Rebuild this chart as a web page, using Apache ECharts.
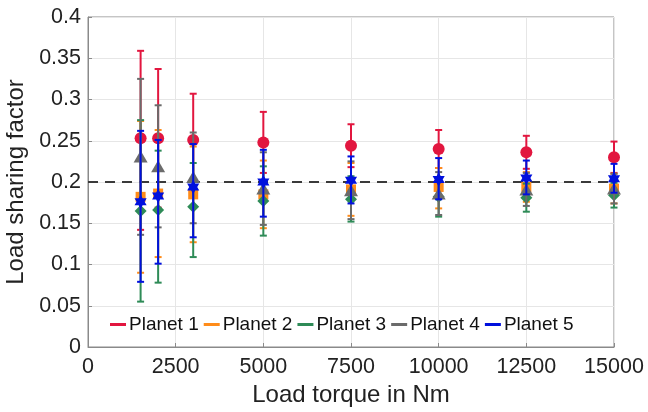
<!DOCTYPE html>
<html><head><meta charset="utf-8">
<script src="https://cdn.jsdelivr.net/npm/echarts@6/dist/echarts.min.js"></script>
<style>html,body{margin:0;padding:0;background:#fff}#c{width:648px;height:412px}</style>
</head><body><div id="c"></div>
<script>
const torque = [1500, 2000, 3000, 5000, 7500, 10000, 12500, 15000];
const names = ['Planet 1', 'Planet 2', 'Planet 3', 'Planet 4', 'Planet 5'];
const p1Mean = [0.253, 0.253, 0.251, 0.248, 0.244, 0.240, 0.236, 0.230];
const p1Up   = [0.359, 0.337, 0.307, 0.285, 0.270, 0.263, 0.256, 0.249];
const p1Low  = [0.142, 0.169, 0.195, 0.211, 0.218, 0.217, 0.216, 0.211];
const p2Mean = [0.182, 0.186, 0.185, 0.185, 0.191, 0.194, 0.194, 0.192];
const p2Up   = [0.274, 0.263, 0.243, 0.226, 0.223, 0.217, 0.212, 0.210];
const p2Low  = [0.090, 0.109, 0.127, 0.144, 0.159, 0.168, 0.176, 0.174];
const p3Mean = [0.165, 0.166, 0.170, 0.177, 0.179, 0.182, 0.181, 0.184];
const p3Up   = [0.275, 0.238, 0.223, 0.219, 0.207, 0.205, 0.198, 0.199];
const p3Low  = [0.055, 0.078, 0.109, 0.135, 0.152, 0.158, 0.164, 0.169];
const p4Mean = [0.231, 0.219, 0.206, 0.192, 0.190, 0.186, 0.191, 0.192];
const p4Up   = [0.325, 0.293, 0.260, 0.236, 0.225, 0.212, 0.211, 0.210];
const p4Low  = [0.136, 0.145, 0.150, 0.148, 0.155, 0.160, 0.171, 0.174];
const p5Mean = [0.176, 0.183, 0.194, 0.200, 0.202, 0.203, 0.205, 0.204];
const p5Up   = [0.262, 0.251, 0.246, 0.239, 0.231, 0.229, 0.226, 0.222];
const p5Low  = [0.079, 0.101, 0.133, 0.158, 0.174, 0.179, 0.185, 0.187];
const refLevel = 0.2;

const means = [p1Mean, p2Mean, p3Mean, p4Mean, p5Mean];
const ups = [p1Up, p2Up, p3Up, p4Up, p5Up];
const lows = [p1Low, p2Low, p3Low, p4Low, p5Low];
const colors = ['#E2163F', '#FF8C1A', '#2E8B57', '#6B6B6B', '#0010DD'];
const hexagram = 'path://M0,-100 L28.87,-50 L86.6,-50 L57.7,0 L86.6,50 L28.87,50 L0,100 L-28.87,50 L-86.6,50 L-57.7,0 L-86.6,-50 L-28.87,-50 Z';
const symbols = ['circle', 'rect', 'diamond', 'triangle', hexagram];
const sizes = [12, 10, 12, [14, 12], 14];

const series = [];
names.forEach((n, i) => {
  series.push({
    name: n, type: 'custom', z: 3 + i * 2,
    data: torque.map((t, k) => [t, lows[i][k], ups[i][k]]),
    renderItem: function (params, api) {
      const x = api.value(0);
      const lo = api.coord([x, api.value(1)]);
      const hi = api.coord([x, api.value(2)]);
      const hw = 3.5;
      const st = { stroke: colors[i], lineWidth: 2 };
      return { type: 'group', children: [
        { type: 'line', shape: { x1: lo[0], y1: lo[1], x2: hi[0], y2: hi[1] }, style: st },
        { type: 'line', shape: { x1: lo[0] - hw, y1: lo[1], x2: lo[0] + hw, y2: lo[1] }, style: st },
        { type: 'line', shape: { x1: hi[0] - hw, y1: hi[1], x2: hi[0] + hw, y2: hi[1] }, style: st }
      ]};
    },
    itemStyle: { color: colors[i] },
    silent: true
  });
  series.push({
    name: n, type: 'scatter', z: 4 + i * 2,
    data: torque.map((t, k) => [t, means[i][k]]),
    symbol: symbols[i], symbolSize: sizes[i], symbolKeepAspect: true,
    itemStyle: { color: colors[i], opacity: 1 },
    markLine: i === 0 ? {
      silent: true, symbol: 'none', label: { show: false }, z: 1,
      lineStyle: { color: '#3a3a3a', type: [10, 7], width: 2 },
      data: [{ yAxis: refLevel }]
    } : undefined
  });
});

const chart = echarts.init(document.getElementById('c'), null, { renderer: 'canvas' });
chart.setOption({
  animation: false,
  backgroundColor: '#fff',
  textStyle: { fontFamily: 'Liberation Sans, Arial, sans-serif' },
  grid: { left: 88, right: 34, top: 17, height: 330, show: true, borderColor: '#8a8a8a', borderWidth: 1,
          containLabel: false, outerBoundsMode: 'none' },
  legend: {
    data: names.map((n, i) => ({ name: n, icon: 'rect', itemStyle: { color: colors[i] } })),
    left: 110, top: 315, itemWidth: 16, itemHeight: 3, itemGap: 5,
    padding: 0,
    textStyle: { fontSize: 19, color: '#111', padding: [0, 0, 0, -2] }
  },
  xAxis: [{
    type: 'value', min: 0, max: 15000, interval: 2500,
    name: 'Load torque in Nm', nameLocation: 'middle', nameGap: 36,
    nameTextStyle: { fontSize: 24, color: '#222' },
    axisLine: { show: true, lineStyle: { color: '#8a8a8a' } },
    axisTick: { show: true, inside: true, length: 4, lineStyle: { color: '#8a8a8a' } },
    axisLabel: { fontSize: 21.5, color: '#222', margin: 9, formatter: v => String(v) },
    splitLine: { show: true, lineStyle: { color: '#e6e6e6', width: 1 } }
  }],
  yAxis: [{
    type: 'value', min: 0, max: 0.4, interval: 0.05,
    name: 'Load sharing factor', nameLocation: 'middle', nameGap: 54,
    nameTextStyle: { fontSize: 24, color: '#222' },
    axisLine: { show: true, lineStyle: { color: '#8a8a8a' } },
    axisTick: { show: true, inside: true, length: 4, lineStyle: { color: '#8a8a8a' } },
    axisLabel: { fontSize: 21.5, color: '#222', margin: 7, formatter: v => String(+v.toFixed(2)) },
    splitLine: { show: true, lineStyle: { color: '#e6e6e6', width: 1 } }
  }],
  series: series
});
</script></body></html>
